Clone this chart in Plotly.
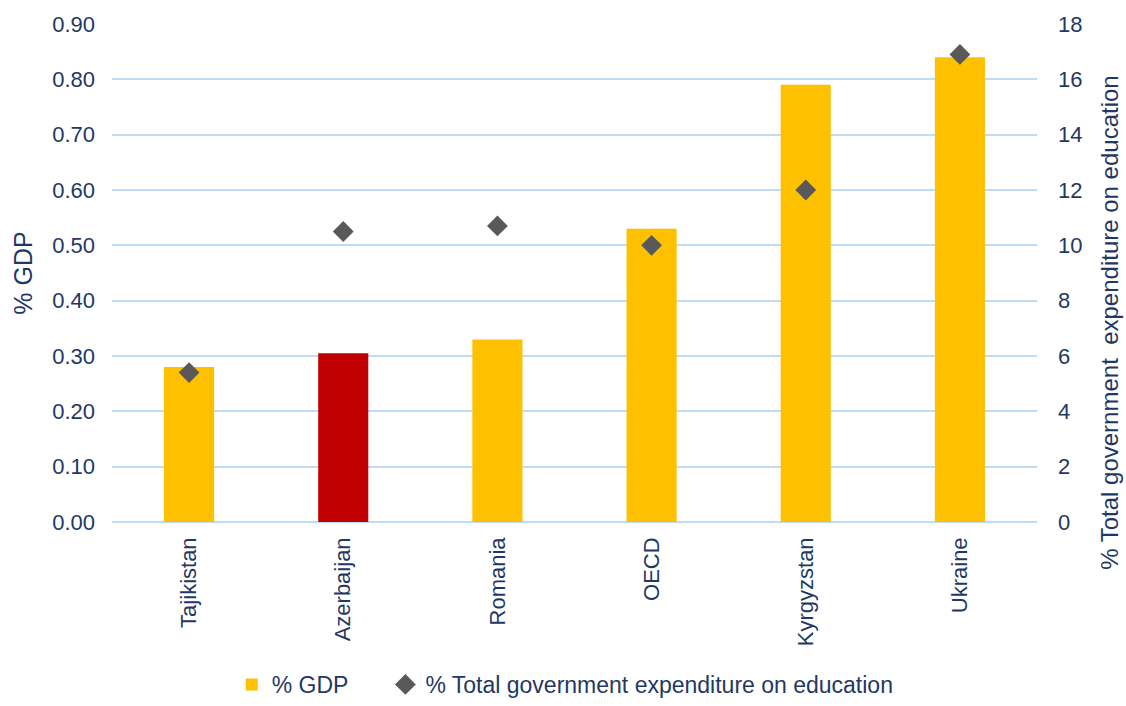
import plotly.graph_objects as go

countries = ["Tajikistan", "Azerbaijan", "Romania", "OECD", "Kyrgyzstan", "Ukraine"]
gdp_share = [0.28, 0.305, 0.33, 0.53, 0.79, 0.84]
edu_share = [5.4, 10.5, 10.7, 10.0, 12.0, 16.9]
bar_colors = ["#FFC000", "#C00000", "#FFC000", "#FFC000", "#FFC000", "#FFC000"]

left_ticks = [0.0, 0.1, 0.2, 0.3, 0.4, 0.5, 0.6, 0.7, 0.8, 0.9]
right_ticks = [0, 2, 4, 6, 8, 10, 12, 14, 16, 18]

navy = "#1F3864"
grid_blue = "#BFDCF7"
font_family = "Liberation Sans, Arial, sans-serif"
pad = "\u00a0" * 5  # spacing after the first legend entry

fig = go.Figure()
fig.add_trace(go.Bar(
    x=countries, y=gdp_share, name="% GDP" + pad,
    marker=dict(color=bar_colors, line=dict(width=0)),
    yaxis="y",
))
fig.add_trace(go.Scatter(
    x=countries, y=edu_share, name="% Total government expenditure on education",
    mode="markers",
    marker=dict(symbol="diamond", size=16, color="#595959"),
    yaxis="y2",
))

fig.update_layout(
    width=1126, height=706,
    margin=dict(l=112, r=89, t=24, b=184),
    paper_bgcolor="white", plot_bgcolor="white",
    font=dict(family=font_family, color=navy, size=22),
    bargap=0.675,
    showlegend=True,
    legend=dict(
        orientation="h", x=0.49, xanchor="center",
        yref="container", y=0, yanchor="bottom",
        font=dict(size=23, color=navy),
        itemwidth=30, tracegroupgap=0,
    ),
    xaxis=dict(
        tickangle=-90, showgrid=False, showline=False, ticks="",
        tickfont=dict(size=22, color=navy),
        ticklabelstandoff=10,
    ),
    yaxis=dict(
        range=[0, 0.9], tickvals=left_ticks, tickformat=".2f",
        showgrid=True, gridcolor=grid_blue, gridwidth=2,
        zeroline=True, zerolinecolor=grid_blue, zerolinewidth=2,
        showline=False, ticks="",
        ticklabelstandoff=16,
        title=dict(text="% GDP", font=dict(size=25, color=navy), standoff=12),
        tickfont=dict(size=22, color=navy),
    ),
    yaxis2=dict(
        range=[0, 18], tickvals=right_ticks, overlaying="y", side="right",
        showgrid=False, zeroline=False, showline=False, ticks="",
        ticklabelstandoff=20,
        tickfont=dict(size=22, color=navy),
    ),
    annotations=[dict(
        text="% Total government  expenditure on education",
        xref="paper", yref="paper", x=1.079, y=0.40,
        xanchor="center", yanchor="middle", textangle=-90,
        showarrow=False, font=dict(size=24, color=navy),
    )],
)

fig.write_html("out.html")
